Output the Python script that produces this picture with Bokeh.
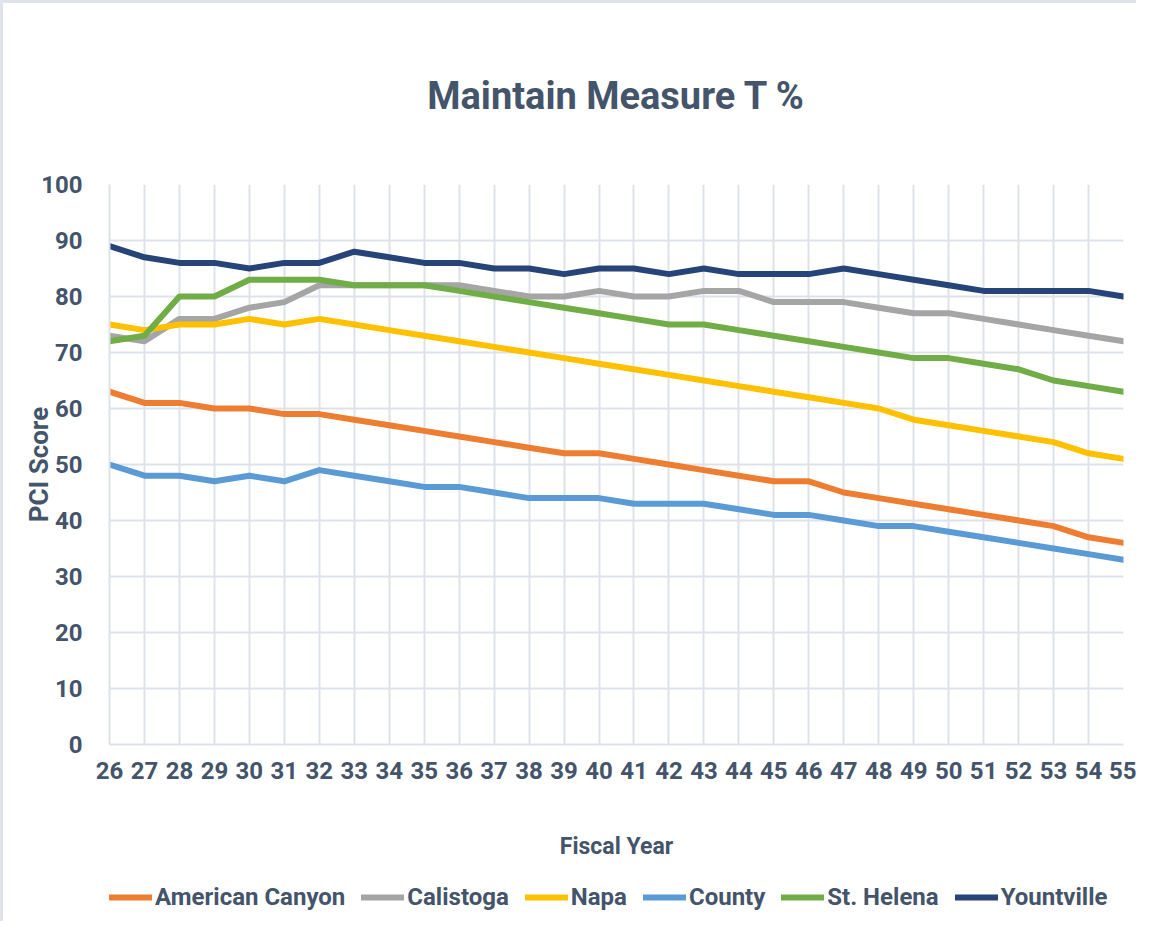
from bokeh.plotting import figure
from bokeh.models import Range1d, FixedTicker, Legend, LegendItem
from bokeh.layouts import column
from bokeh.embed import file_html
from bokeh.resources import INLINE

# ---- data ----
years = list(range(26, 56))
tick_labels = [str(y) for y in years]

american_canyon = [63, 61, 61, 60, 60, 59, 59, 58, 57, 56,
                   55, 54, 53, 52, 52, 51, 50, 49, 48, 47,
                   47, 45, 44, 43, 42, 41, 40, 39, 37, 36]
calistoga = [73, 72, 76, 76, 78, 79, 82, 82, 82, 82,
             82, 81, 80, 80, 81, 80, 80, 81, 81, 79,
             79, 79, 78, 77, 77, 76, 75, 74, 73, 72]
napa = [75, 74, 75, 75, 76, 75, 76, 75, 74, 73,
        72, 71, 70, 69, 68, 67, 66, 65, 64, 63,
        62, 61, 60, 58, 57, 56, 55, 54, 52, 51]
county = [50, 48, 48, 47, 48, 47, 49, 48, 47, 46,
          46, 45, 44, 44, 44, 43, 43, 43, 42, 41,
          41, 40, 39, 39, 38, 37, 36, 35, 34, 33]
st_helena = [72, 73, 80, 80, 83, 83, 83, 82, 82, 82,
             81, 80, 79, 78, 77, 76, 75, 75, 74, 73,
             72, 71, 70, 69, 69, 68, 67, 65, 64, 63]
yountville = [89, 87, 86, 86, 85, 86, 86, 88, 87, 86,
              86, 85, 85, 84, 85, 85, 84, 85, 84, 84,
              84, 85, 84, 83, 82, 81, 81, 81, 81, 80]

series_names = ["American Canyon", "Calistoga", "Napa", "County", "St. Helena", "Yountville"]
series_values = [american_canyon, calistoga, napa, county, st_helena, yountville]
series_colors = ["#ED7D31", "#A5A5A5", "#FFC000", "#5B9BD5", "#70AD47", "#264478"]

y_ticks = [0, 10, 20, 30, 40, 50, 60, 70, 80, 90, 100]

FONT = "Roboto"
TEXT = "#44546A"
GRID = "#DDE2EA"
FRAME = "3px solid #DFE3EA"

p = figure(width=1136, height=865, output_backend="svg", toolbar_location=None,
           x_range=Range1d(years[0], years[-1]), y_range=Range1d(0, 100),
           min_border_left=106, min_border_right=16, min_border_top=181,
           min_border_bottom=124, background_fill_color="white",
           border_fill_color="white", outline_line_color=None)
p.styles = {"border-left": FRAME, "border-top": FRAME}

# title
p.title.text = "Maintain Measure T %"
p.title.align = "center"
p.title.text_font = FONT
p.title.text_font_size = "38px"
p.title.text_font_style = "bold"
p.title.text_color = TEXT
p.title.standoff = 134

# axes
p.xaxis.ticker = FixedTicker(ticks=years)
p.xaxis.major_label_overrides = {y: s for y, s in zip(years, tick_labels)}
p.yaxis.ticker = FixedTicker(ticks=y_ticks)
for ax in (p.xaxis[0], p.yaxis[0]):
    ax.axis_line_color = GRID
    ax.axis_line_width = 2
    ax.major_tick_line_color = None
    ax.minor_tick_line_color = None
    ax.major_label_text_font = FONT
    ax.major_label_text_font_size = "24px"
    ax.major_label_text_font_style = "bold"
    ax.major_label_text_color = TEXT
    ax.axis_label_text_font = FONT
    ax.axis_label_text_font_style = "bold"
    ax.axis_label_text_color = TEXT
p.xaxis.axis_label = "Fiscal Year"
p.yaxis.axis_label = "PCI Score"
p.xaxis.axis_label_text_font_size = "23px"
p.yaxis.axis_label_text_font_size = "26px"
p.xaxis.major_label_standoff = 11
p.xaxis.axis_label_standoff = 51
p.yaxis.major_label_standoff = 21
p.yaxis.axis_label_standoff = -16

p.xgrid.grid_line_color = GRID
p.xgrid.grid_line_width = 2
p.ygrid.grid_line_color = GRID
p.ygrid.grid_line_width = 2

for name, vals, col in zip(series_names, series_values, series_colors):
    p.line(years, vals, line_color=col, line_width=6,
           line_cap="round", line_join="round")

# legend strip below the chart (its lines lie outside this strip's ranges)
leg = figure(width=1136, height=56, output_backend="svg", toolbar_location=None,
             x_range=Range1d(0, 1), y_range=Range1d(0, 1), min_border=0,
             x_axis_location=None, y_axis_location=None,
             background_fill_color="white", border_fill_color="white",
             outline_line_color=None)
leg.styles = {"border-left": FRAME}
leg.xgrid.visible = False
leg.ygrid.visible = False
items = []
for name, vals, col in zip(series_names, series_values, series_colors):
    r = leg.line(years, vals, line_color=col, line_width=6, line_cap="round")
    items.append(LegendItem(label=name, renderers=[r]))
legend = Legend(items=items, orientation="horizontal", location=(0, 10),
                label_text_font=FONT, label_text_font_size="24px",
                label_text_font_style="bold", label_text_color=TEXT,
                glyph_width=43, glyph_height=20, label_standoff=3,
                spacing=16, padding=0, margin=0,
                border_line_color=None, background_fill_alpha=0)
leg.add_layout(legend, "center")

layout = column(p, leg, spacing=0)
open("out.html", "w").write(file_html(layout, INLINE))
